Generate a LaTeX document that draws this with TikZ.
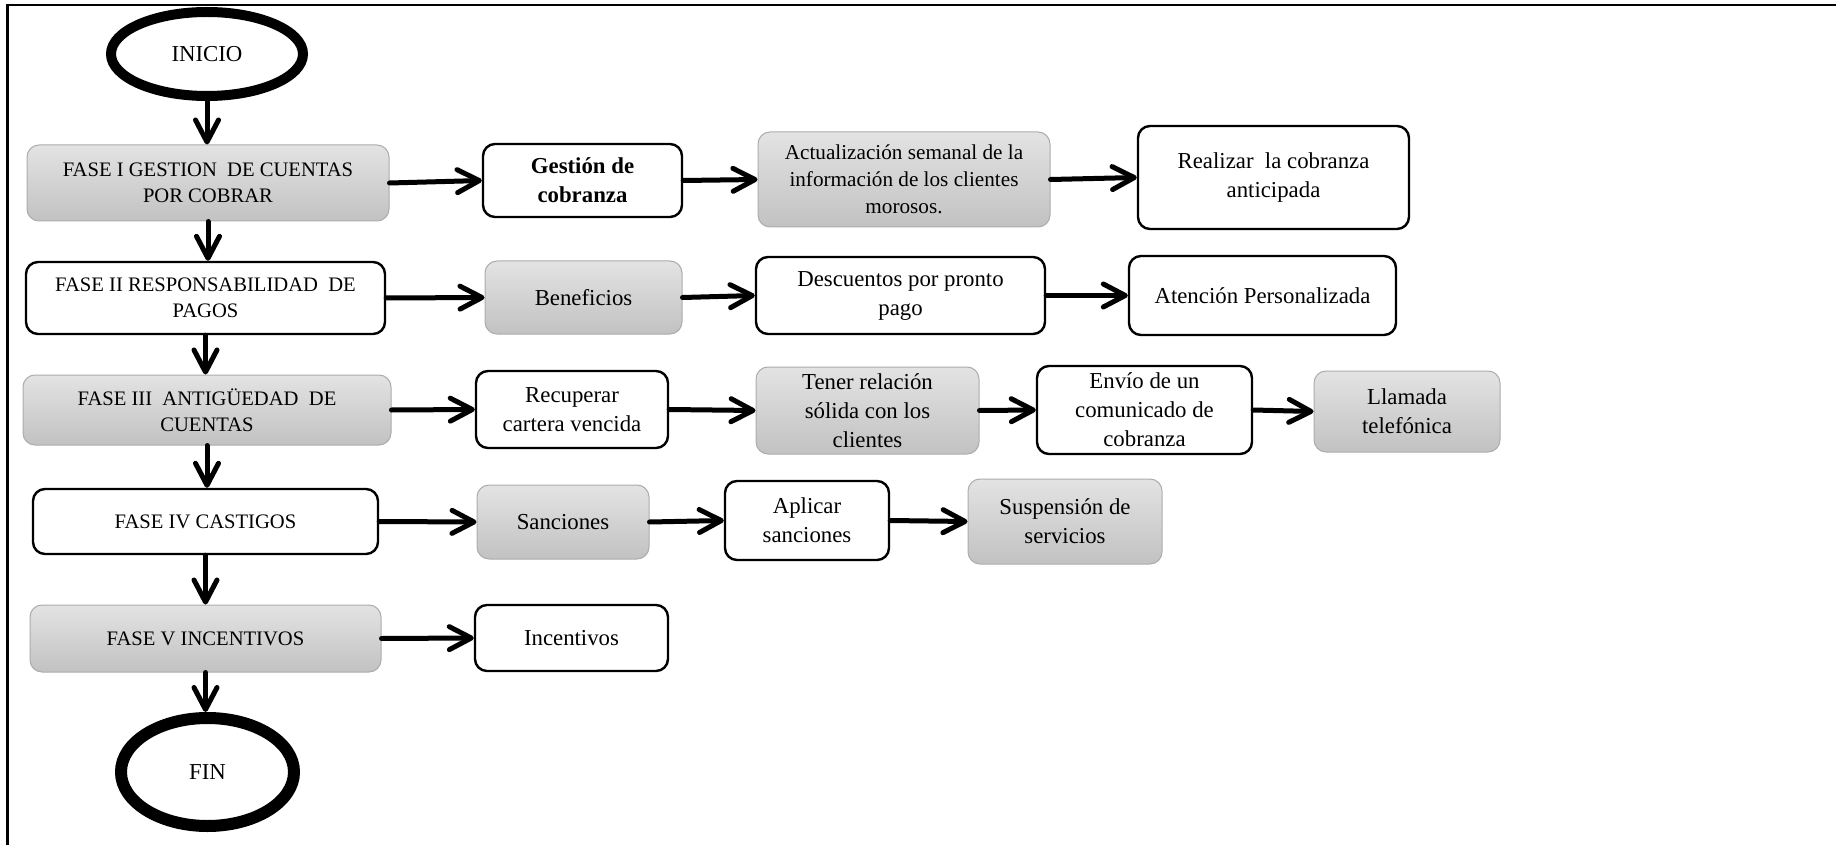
\documentclass[tikz,border=0pt]{standalone}
\usepackage{fontspec}
\setmainfont{Liberation Serif}
\usetikzlibrary{arrows.meta,shapes.geometric}
\begin{document}
\begin{tikzpicture}[x=0.5pt,y=-0.5pt,
  every node/.style={font=\fontsize{11.4pt}{14.5pt}\selectfont, align=center, inner sep=0pt},
  fase/.style={font=\fontsize{10.3pt}{13pt}\selectfont},
  gbox/.style={rectangle, rounded corners=6pt, draw=gray!65, line width=0.5pt, top color=gray!22, bottom color=gray!48},
  wbox/.style={rectangle, rounded corners=6pt, draw=black, line width=1.2pt, fill=white},
  term/.style={ellipse, draw=black, fill=white},
  flow/.style={line width=2.5pt, line cap=round, -{Straight Barb[length=11pt,width=11.5pt,line cap=round,line join=round]}}
]
\useasboundingbox (0,0) rectangle (1836,845);
\draw[line width=1.25pt] (7.5,845) -- (7.5,5) -- (1836,5);

% terminals
\node[term, line width=5pt, minimum width=96pt, minimum height=42pt] (ini) at (207,54) {INICIO};
\node[term, line width=6pt, minimum width=86.5pt, minimum height=54pt] (fin) at (207.5,772) {FIN};

% row 1
\node[gbox, fase, minimum width=181pt, minimum height=38pt] (f1) at (208,183) {FASE I GESTION\ \ DE CUENTAS\\POR COBRAR};
\node[wbox, minimum width=99.5pt, minimum height=36.5pt] (g1) at (582.5,180.5) {\bfseries Gestión de\\\bfseries cobranza};
\node[gbox, font=\fontsize{10.6pt}{13.6pt}\selectfont, minimum width=146pt, minimum height=47.5pt] (a1) at (904,179.5) {Actualización semanal de la\\información de los clientes\\morosos.};
\node[wbox, minimum width=135.5pt, minimum height=51.5pt] (r1) at (1273.5,177.5) {Realizar\ \ la cobranza\\anticipada};

% row 2
\node[wbox, fase, minimum width=179.5pt, minimum height=36pt] (f2) at (205.5,298) {FASE II RESPONSABILIDAD\ \ DE\\PAGOS};
\node[gbox, minimum width=98.5pt, minimum height=36.5pt] (b2) at (583.5,297.5) {Beneficios};
\node[wbox, minimum width=144.5pt, minimum height=38.5pt] (d2) at (900.5,295.5) {Descuentos por pronto\\pago};
\node[wbox, minimum width=133.5pt, minimum height=39.5pt] (at2) at (1262.5,295.5) {Atención Personalizada};

% row 3
\node[gbox, fase, minimum width=184pt, minimum height=35pt] (f3) at (207,410) {FASE III\ \ ANTIGÜEDAD\ \ DE\\CUENTAS};
\node[wbox, minimum width=96pt, minimum height=38.5pt] (rc3) at (572,409.5) {Recuperar\\cartera vencida};
\node[gbox, minimum width=111.5pt, minimum height=43.5pt] (t3) at (867.5,410.5) {Tener relación\\sólida con los\\clientes};
\node[wbox, minimum width=107.5pt, minimum height=44pt] (e3) at (1144.5,410) {Envío de un\\comunicado de\\cobranza};
\node[gbox, minimum width=93pt, minimum height=40.5pt] (l3) at (1407,411.5) {Llamada\\telefónica};

% row 4
\node[wbox, fase, minimum width=172.5pt, minimum height=32.5pt] (f4) at (205.5,521.5) {FASE IV CASTIGOS};
\node[gbox, minimum width=86pt, minimum height=37pt] (s4) at (563,522) {Sanciones};
\node[wbox, minimum width=82pt, minimum height=39.5pt] (ap4) at (807,520.5) {Aplicar\\sanciones};
\node[gbox, minimum width=97pt, minimum height=42.5pt] (su4) at (1065,521.5) {Suspensión de\\servicios};

% row 5
\node[gbox, fase, minimum width=175.5pt, minimum height=33.5pt] (f5) at (205.5,638.5) {FASE V INCENTIVOS};
\node[wbox, minimum width=96.5pt, minimum height=33pt] (i5) at (571.5,638) {Incentivos};

% vertical flow
\draw[flow] (ini.south) -- (ini.south |- f1.north);
\draw[flow] (f1.south) -- (f1.south |- f2.north);
\draw[flow] (f2.south) -- (f2.south |- f3.north);
\draw[flow] (f3.south) -- (f3.south |- f4.north);
\draw[flow] (f4.south) -- (f4.south |- f5.north);
\draw[flow] (f5.south) -- (f5.south |- fin.north);

% horizontal flow
\draw[flow] (f1.east) -- (g1.west);
\draw[flow] (g1.east) -- (a1.west);
\draw[flow] (a1.east) -- (r1.west);
\draw[flow] (f2.east) -- (b2.west);
\draw[flow] (b2.east) -- (d2.west);
\draw[flow] (d2.east) -- (at2.west);
\draw[flow] (f3.east) -- (rc3.west);
\draw[flow] (rc3.east) -- (t3.west);
\draw[flow] (t3.east) -- (e3.west);
\draw[flow] (e3.east) -- (l3.west);
\draw[flow] (f4.east) -- (s4.west);
\draw[flow] (s4.east) -- (ap4.west);
\draw[flow] (ap4.east) -- (su4.west);
\draw[flow] (f5.east) -- (i5.west);
\end{tikzpicture}
\end{document}
